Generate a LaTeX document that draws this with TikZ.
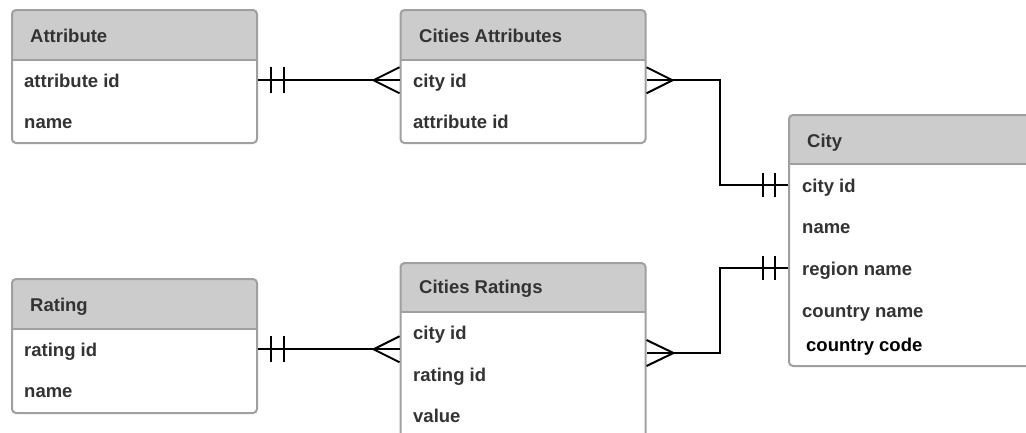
\documentclass[tikz,border=0pt]{standalone}
\usepackage{fontspec}
\setmainfont{Liberation Sans}
\definecolor{hdrgray}{HTML}{CCCCCC}
\definecolor{boxgray}{HTML}{A0A0A0}
\definecolor{txtgray}{HTML}{333333}
\tikzset{
  tbl/.style={draw=boxgray, line width=2pt, rounded corners=4pt, fill=white, inner sep=0pt, anchor=north west,
    path picture={\fill[hdrgray, sharp corners] (path picture bounding box.north west) rectangle ([yshift=-#1]path picture bounding box.north east);
      \draw[boxgray, line width=2pt, sharp corners] ([yshift=-#1]path picture bounding box.north west) -- ([yshift=-#1]path picture bounding box.north east);}},
  title/.style={anchor=base west, inner sep=0pt, text=txtgray, font=\fontsize{18.5}{20}\selectfont\bfseries},
  field/.style={title, text height=13.5pt, text depth=0pt},
  rel/.style={line width=2pt, black},
}
\begin{document}
\begin{tikzpicture}[x=1pt, y=-1pt]
\useasboundingbox (0,0) rectangle (1026,432);

% tables
\node[tbl=50pt, minimum width=245pt, minimum height=133pt] (attr) at (11,9) {};
\node[title] (attr-title) at (30,42) {Attribute};
\node[field] (attr-aid) at (24,87) {attribute id};
\node[field] (attr-name) at (24,128) {name};

\node[tbl=50pt, minimum width=245pt, minimum height=133pt] (ca) at (399.5,9) {};
\node[title] (ca-title) at (419,42) {Cities Attributes};
\node[field] (ca-cid) at (413,87) {city id};
\node[field] (ca-aid) at (413,128) {attribute id};

\node[tbl=49pt, minimum width=245pt, minimum height=251pt] (ct) at (788,114) {};
\node[title] (ct-title) at (807,147) {City};
\node[field] (ct-cid) at (802,192) {city id};
\node[field] (ct-name) at (802,233) {name};
\node[field] (ct-region) at (802,275) {region name};
\node[field] (ct-country) at (802,317) {country name};
\node[field, text=black] (ct-code) at (806,351) {country code};

\node[tbl=50pt, minimum width=245pt, minimum height=134pt] (rt) at (11,278) {};
\node[title] (rt-title) at (30,311) {Rating};
\node[field] (rt-rid) at (24,356) {rating id};
\node[field] (rt-name) at (24,397) {name};

\node[tbl=49pt, minimum width=245pt, minimum height=180pt] (cr) at (399.5,262) {};
\node[title] (cr-title) at (419,293) {Cities Ratings};
\node[field] (cr-cid) at (413,339) {city id};
\node[field] (cr-rid) at (413,381) {rating id};
\node[field] (cr-val) at (413,422) {value};

% Attribute -- Cities Attributes
\draw[rel] (attr-aid -| attr.east) -- (attr-aid -| ca.west);
\draw[rel] ([xshift=13pt]attr-aid -| attr.east) ++(0,-13) -- ++(0,26);
\draw[rel] ([xshift=26pt]attr-aid -| attr.east) ++(0,-13) -- ++(0,26);
\draw[rel] (attr-aid -| ca.west) ++(0,-13) -- ++(-26,13) -- ++(26,13);

% Cities Attributes -- City
\draw[rel] (ca-cid -| ca.east) -- ++(73,0) |- (ct-cid -| ct.west);
\draw[rel] (ca-cid -| ca.east) ++(0,-13) -- ++(26,13) -- ++(-26,13);
\draw[rel] ([xshift=-13pt]ct-cid -| ct.west) ++(0,-12) -- ++(0,24);
\draw[rel] ([xshift=-25pt]ct-cid -| ct.west) ++(0,-12) -- ++(0,24);

% Rating -- Cities Ratings
\draw[rel] (rt-rid -| rt.east) -- (rt-rid -| cr.west);
\draw[rel] ([xshift=13pt]rt-rid -| rt.east) ++(0,-13) -- ++(0,26);
\draw[rel] ([xshift=26pt]rt-rid -| rt.east) ++(0,-13) -- ++(0,26);
\draw[rel] (rt-rid -| cr.west) ++(0,-13) -- ++(-26,13) -- ++(26,13);

% Cities Ratings -- City
\draw[rel] (cr.east) -- ++(73,0) |- (ct-region -| ct.west);
\draw[rel] (cr.east) ++(0,-13) -- ++(27,13) -- ++(-27,13);
\draw[rel] ([xshift=-13pt]ct-region -| ct.west) ++(0,-12) -- ++(0,24);
\draw[rel] ([xshift=-25pt]ct-region -| ct.west) ++(0,-12) -- ++(0,24);
\end{tikzpicture}
\end{document}
